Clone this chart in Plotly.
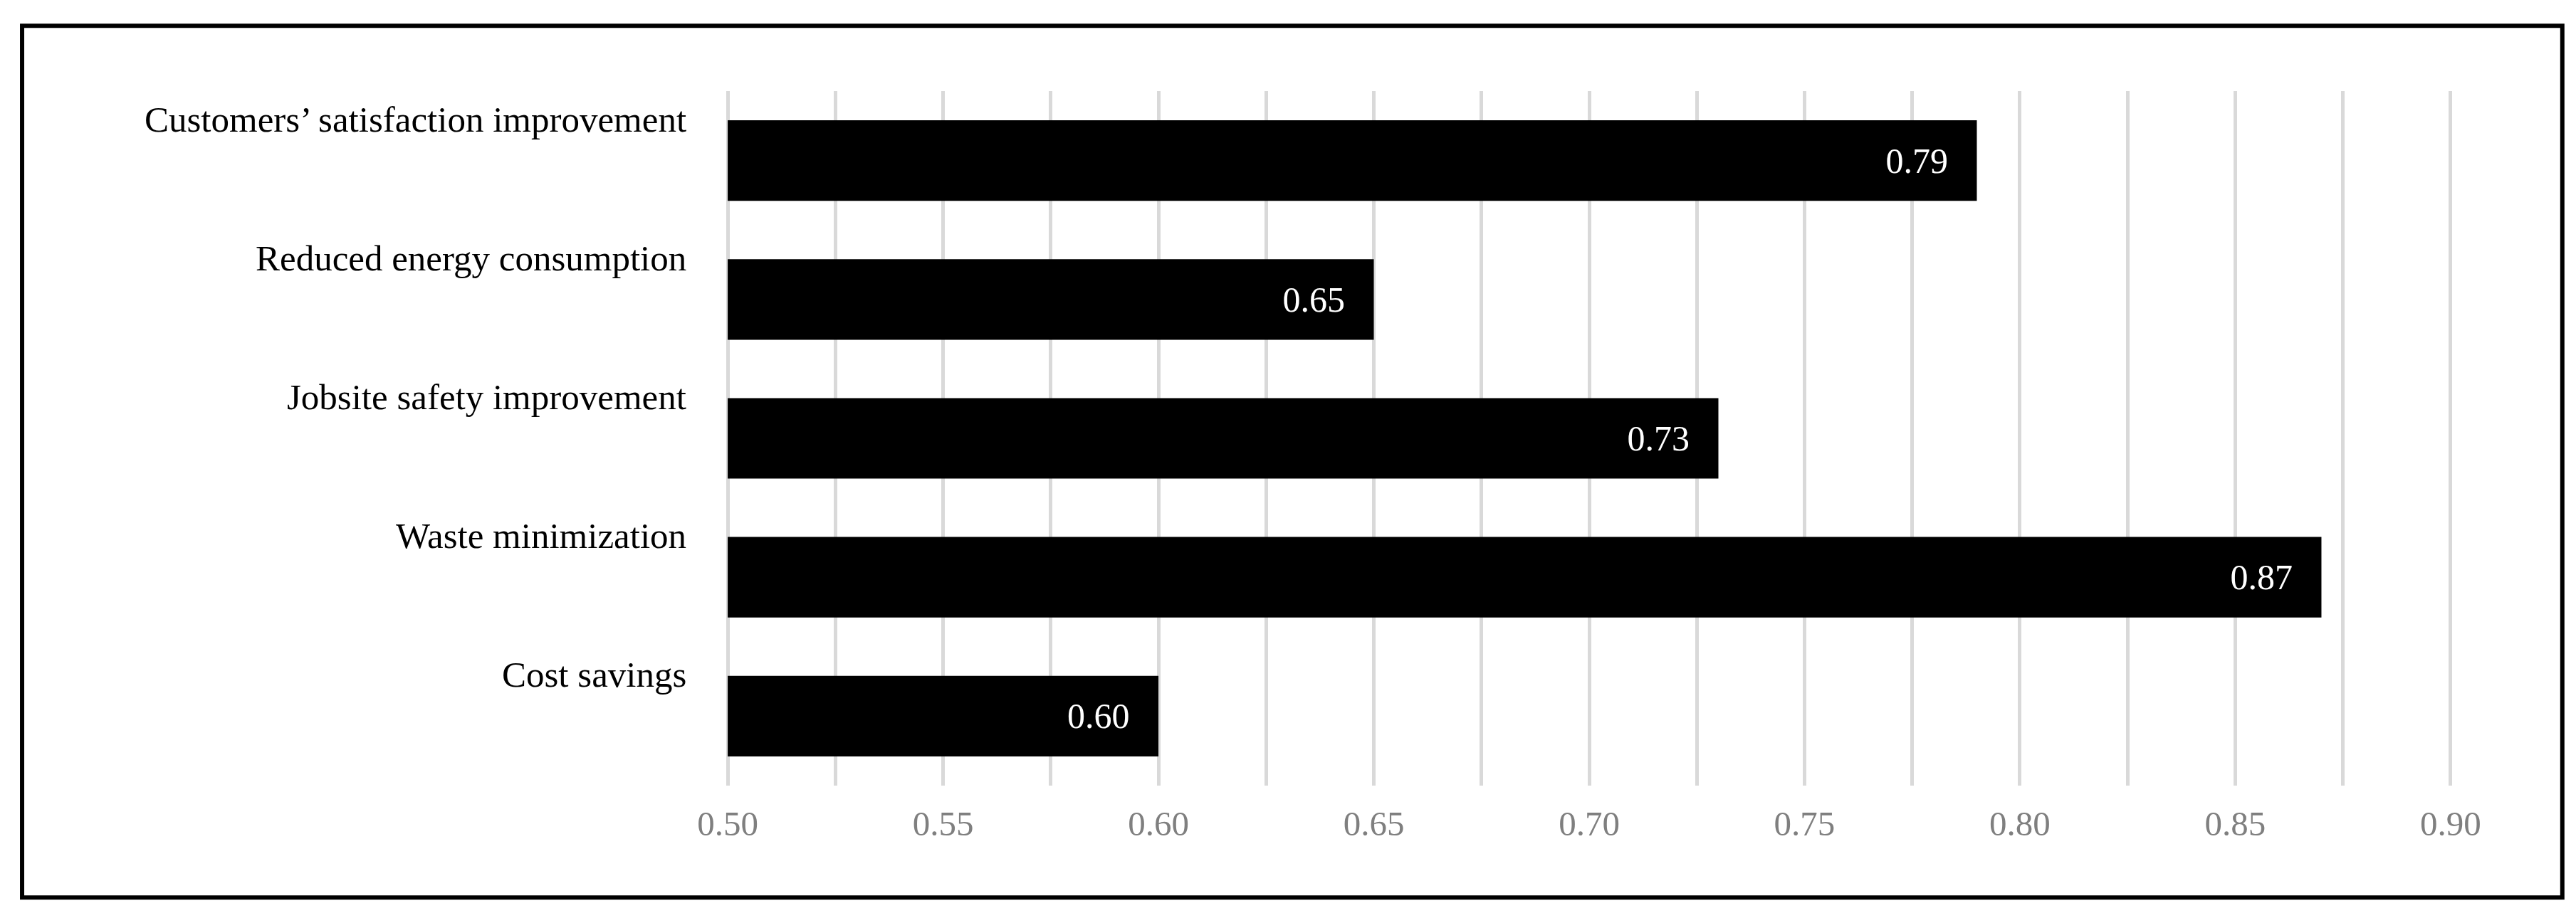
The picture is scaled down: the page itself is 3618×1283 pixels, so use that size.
import plotly.graph_objects as go

categories = ["Cost savings", "Waste minimization", "Jobsite safety improvement",
              "Reduced energy consumption", "Customers\u2019 satisfaction improvement"]
values = [0.60, 0.87, 0.73, 0.65, 0.79]
tick_vals = [0.50, 0.55, 0.60, 0.65, 0.70, 0.75, 0.80, 0.85, 0.90]

font_family = "Liberation Serif"

fig = go.Figure(go.Bar(
    y=categories, x=[v - 0.5 for v in values], base=0.5,
    orientation="h", width=0.58,
    marker=dict(color="black", line=dict(width=0)),
    text=[f"{v:.2f}\u00a0\u00a0\u00a0" for v in values],
    textposition="inside", insidetextanchor="end",
    textfont=dict(color="white", size=50, family=font_family),
    cliponaxis=False,
))

# category labels sit above the bar centre, right-aligned left of the axis
for c in categories:
    fig.add_annotation(x=0, xref="paper", y=c, yref="y", text=c,
                       xanchor="right", yanchor="middle", xshift=-50, yshift=58,
                       showarrow=False, font=dict(size=51, color="black", family=font_family))

fig.add_shape(type="rect", xref="paper", yref="paper",
              x0=-0.405, x1=1.062, y0=-0.161, y1=1.094,
              line=dict(color="black", width=6))

fig.update_layout(
    width=3618, height=1283,
    margin=dict(l=1008, r=178, t=120, b=187),
    paper_bgcolor="white", plot_bgcolor="white",
    showlegend=False,
    xaxis=dict(range=[0.499, 0.901], tickvals=tick_vals, tickformat=".2f",
               showgrid=True, gridcolor="#d9d9d9", gridwidth=5, zeroline=False,
               minor=dict(dtick=0.025, tick0=0.5, showgrid=True,
                          gridcolor="#d9d9d9", gridwidth=5),
               showline=False, ticks="",
               tickfont=dict(size=49, color="#7f7f7f", family=font_family)),
    yaxis=dict(showticklabels=False, showgrid=False, zeroline=False,
               range=[-0.5, 4.5]),
)
fig.update_xaxes(ticklabelstandoff=20)

fig.write_html("out.html")
